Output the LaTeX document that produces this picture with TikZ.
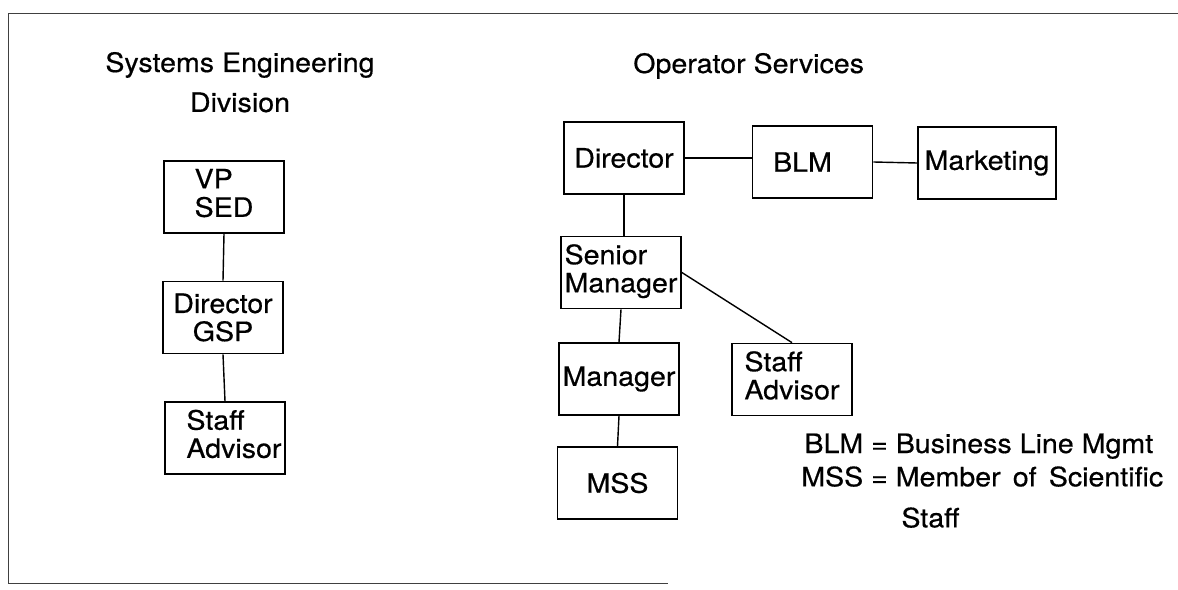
\documentclass[tikz,border=0pt]{standalone}
\usepackage{fontspec}
\setmainfont{TeX Gyre Heros}[FakeStretch=1.07,FakeBold=0.5]
\usepackage{tikz}
\newcommand{\orgfont}{\fontsize{19}{20}\selectfont}

\begin{document}
\begin{tikzpicture}[x=0.025cm,y=-0.025cm,
    orgbox/.style={draw,line width=1.2pt,minimum width=3cm,minimum height=1.8cm,
        inner sep=1pt,align=center,font=\orgfont},
    conn/.style={line width=1pt},
    heading/.style={inner sep=0pt,font=\orgfont}]
    \useasboundingbox (0,0) rectangle (1178,590);
    % frame
    \draw[line width=0.6pt,black!75] (1178,13) -- (8,13) -- (8,583) -- (668,583);
    % headings
    \node[heading,anchor=base] (sedhead) at (240,72)
        {\begin{tabular}[t]{@{}c@{}}Systems Engineering\\[8.4pt] Division\end{tabular}};
    \node[heading,anchor=base west] (opshead) at (633,73) {Operator Services};
    % left column
    \node[orgbox] (vp) at (224,197) {\begin{tabular}{@{}l@{}}VP\\SED\end{tabular}};
    \node[orgbox] (gsp) at (223,317.5) {Director\\GSP};
    \node[orgbox] (advl) at (225,438) {\hspace{0.45cm}\begin{tabular}{@{}l@{}}Staff\\Advisor\end{tabular}};
    % right column
    \node[orgbox] (dir) at (624,158) {Director};
    \node[orgbox] (blm) at (812.5,162) {BLM\hspace{0.5cm}};
    \node[orgbox,minimum width=3.45cm] (mkt) at (987,163) {Marketing};
    \node[orgbox] (senior) at (621,272.5) {\begin{tabular}{@{}l@{}}Senior\\Manager\end{tabular}};
    \node[orgbox] (mgr) at (619,379) {Manager};
    \node[orgbox] (mss) at (617.5,483) {MSS};
    \node[orgbox] (advr) at (792,379.5) {\begin{tabular}{@{}l@{}}Staff\\Advisor\end{tabular}};
    % lines
    \draw[conn] (vp.south) -- (gsp.north);
    \draw[conn] (gsp.south) -- (advl.north);
    \draw[conn] (dir.east) -- (dir.east -| blm.west);
    \draw[conn] (blm.east) -- (mkt.west);
    \draw[conn] (dir.south) -- (dir.south |- senior.north);
    \draw[conn] (senior.south) -- (mgr.north);
    \draw[conn] (mgr.south) -- (mss.north);
    \draw[conn] (senior.east) -- (advr.north);
    % legend
    \node[heading,anchor=base west] (legend) at (801,453)
        {\begin{tabular}[t]{@{}r@{ = }l@{}}
            BLM & Business Line Mgmt\\[3.5pt]
            MSS & Member\hspace{3pt} of\hspace{3pt} Scientific\\[9pt]
            \multicolumn{2}{@{}l@{}}{\phantom{MSS = }\hspace{4pt}Staff}
        \end{tabular}};
\end{tikzpicture}
\end{document}
